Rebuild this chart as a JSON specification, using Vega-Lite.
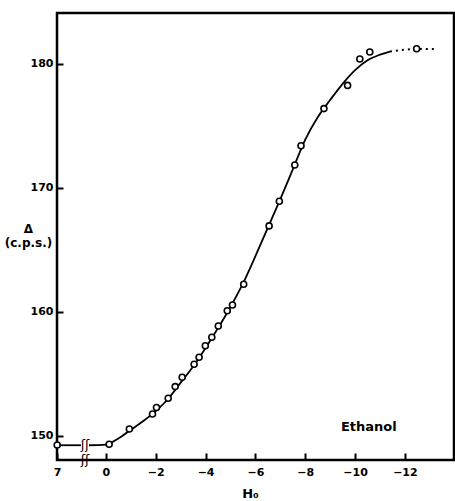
{
  "$schema": "https://vega.github.io/schema/vega-lite/v6.json",
  "width": 397,
  "height": 447,
  "autosize": {"type": "none"},
  "padding": {"left": 57, "top": 13, "right": 1, "bottom": 41},
  "background": "white",
  "config": {
    "view": {"stroke": "black", "strokeWidth": 2.5},
    "font": "DejaVu Sans",
    "axis": {"zindex": 1}
  },
  "datasets": {
    "points": [
      {"H": 7.0, "D": 149.27},
      {"H": -0.13, "D": 149.33},
      {"H": -0.94, "D": 150.56},
      {"H": -1.87, "D": 151.77},
      {"H": -2.03, "D": 152.3},
      {"H": -2.5, "D": 153.04},
      {"H": -2.78, "D": 153.98},
      {"H": -3.06, "D": 154.73},
      {"H": -3.54, "D": 155.78},
      {"H": -3.74, "D": 156.35},
      {"H": -3.99, "D": 157.28},
      {"H": -4.25, "D": 157.96},
      {"H": -4.51, "D": 158.87},
      {"H": -4.87, "D": 160.1},
      {"H": -5.08, "D": 160.56},
      {"H": -5.53, "D": 162.23},
      {"H": -6.55, "D": 166.94},
      {"H": -6.96, "D": 168.93},
      {"H": -7.58, "D": 171.85},
      {"H": -7.83, "D": 173.4},
      {"H": -8.75, "D": 176.4},
      {"H": -9.7, "D": 178.27},
      {"H": -10.19, "D": 180.4},
      {"H": -10.59, "D": 180.97},
      {"H": -12.47, "D": 181.23}
    ],
    "curve": [
      {"seg": "a", "H": 7.0, "D": 149.25},
      {"seg": "a", "H": 1.02, "D": 149.25},
      {"seg": "b", "H": 0.68, "D": 149.25},
      {"seg": "b", "H": 0.3, "D": 149.26},
      {"seg": "b", "H": 0.0, "D": 149.3},
      {"seg": "b", "H": -0.5, "D": 149.8},
      {"seg": "b", "H": -1.0, "D": 150.5},
      {"seg": "b", "H": -1.5, "D": 151.2},
      {"seg": "b", "H": -2.0, "D": 152.0},
      {"seg": "b", "H": -2.5, "D": 153.0},
      {"seg": "b", "H": -3.0, "D": 154.3},
      {"seg": "b", "H": -3.5, "D": 155.6},
      {"seg": "b", "H": -4.0, "D": 157.1},
      {"seg": "b", "H": -4.5, "D": 158.7},
      {"seg": "b", "H": -5.0, "D": 160.4},
      {"seg": "b", "H": -5.5, "D": 162.3},
      {"seg": "b", "H": -6.0, "D": 164.5},
      {"seg": "b", "H": -6.5, "D": 166.8},
      {"seg": "b", "H": -7.0, "D": 169.1},
      {"seg": "b", "H": -7.5, "D": 171.5},
      {"seg": "b", "H": -8.0, "D": 173.9},
      {"seg": "b", "H": -8.5, "D": 175.7},
      {"seg": "b", "H": -9.0, "D": 177.1},
      {"seg": "b", "H": -9.5, "D": 178.4},
      {"seg": "b", "H": -10.0, "D": 179.5},
      {"seg": "b", "H": -10.5, "D": 180.3},
      {"seg": "b", "H": -11.0, "D": 180.75},
      {"seg": "b", "H": -11.4, "D": 181.0},
      {"seg": "c", "H": -11.4, "D": 181.0},
      {"seg": "c", "H": -12.0, "D": 181.15},
      {"seg": "c", "H": -12.5, "D": 181.2},
      {"seg": "c", "H": -13.3, "D": 181.2}
    ],
    "breaks": [
      {"H": 0.84, "D": 149.25},
      {"H": 0.84, "D": 148.06}
    ],
    "label": [
      {"H": -10.55, "D": 150.75, "name": "Ethanol"}
    ]
  },
  "encoding": {
    "x": {
      "field": "H",
      "type": "quantitative",
      "scale": {"domain": [7.05, 1, -13.97], "range": [0, 24, 397], "nice": false, "zero": false},
      "axis": {
        "values": [7, 0, -2, -4, -6, -8, -10, -12],
        "offset": -7,
        "title": "H₀",
        "titleFont": "DejaVu Sans",
        "titleFontSize": 13,
        "titleFontWeight": "bold",
        "titleX": 193,
        "titleY": 44,
        "titleAlign": "center",
        "titleBaseline": "alphabetic",
        "grid": false,
        "domain": false,
        "tickColor": "black",
        "tickWidth": 2,
        "tickSize": 7,
        "labelPadding": 6,
        "labelFont": "DejaVu Sans",
        "labelFontSize": 11,
        "labelFontWeight": "bold",
        "labelColor": "black",
        "labelFlush": false
      }
    },
    "y": {
      "field": "D",
      "type": "quantitative",
      "scale": {"domain": [148.06, 184.11], "nice": false, "zero": false},
      "axis": {
        "values": [150, 160, 170, 180],
        "offset": -6,
        "title": ["Δ", "(c.p.s.)"],
        "titleAngle": 0,
        "titleX": -35,
        "titleY": 219,
        "titleAlign": "center",
        "titleBaseline": "alphabetic",
        "titleLineHeight": 14,
        "titleFont": "DejaVu Sans",
        "titleFontSize": 12,
        "titleFontWeight": "bold",
        "grid": false,
        "domain": false,
        "tickColor": "black",
        "tickWidth": 2,
        "tickSize": 6,
        "labelPadding": 4,
        "labelFont": "DejaVu Sans",
        "labelFontSize": 11,
        "labelFontWeight": "bold",
        "labelColor": "black"
      }
    }
  },
  "layer": [
    {
      "data": {"name": "curve"},
      "transform": [{"filter": "datum.seg != 'c'"}],
      "mark": {"type": "line", "color": "black", "strokeWidth": 1.8, "interpolate": "monotone"},
      "encoding": {"detail": {"field": "seg"}, "order": {"field": "H", "sort": "descending"}}
    },
    {
      "data": {"name": "curve"},
      "transform": [{"filter": "datum.seg == 'c'"}],
      "mark": {"type": "line", "color": "black", "strokeWidth": 2, "strokeDash": [2, 4], "interpolate": "monotone"},
      "encoding": {"order": {"field": "H", "sort": "descending"}}
    },
    {
      "data": {"name": "breaks"},
      "mark": {"type": "text", "text": "ʃʃ", "font": "DejaVu Sans", "fontSize": 13, "color": "black", "clip": false},
      "encoding": {}
    },
    {
      "data": {"name": "points"},
      "mark": {"type": "point", "shape": "circle", "size": 36, "filled": true, "fill": "white", "stroke": "black", "strokeWidth": 1.6, "opacity": 1},
      "encoding": {}
    },
    {
      "data": {"name": "label"},
      "mark": {"type": "text", "font": "DejaVu Sans", "fontSize": 13, "fontWeight": "bold", "color": "black"},
      "encoding": {"text": {"field": "name"}}
    }
  ]
}
